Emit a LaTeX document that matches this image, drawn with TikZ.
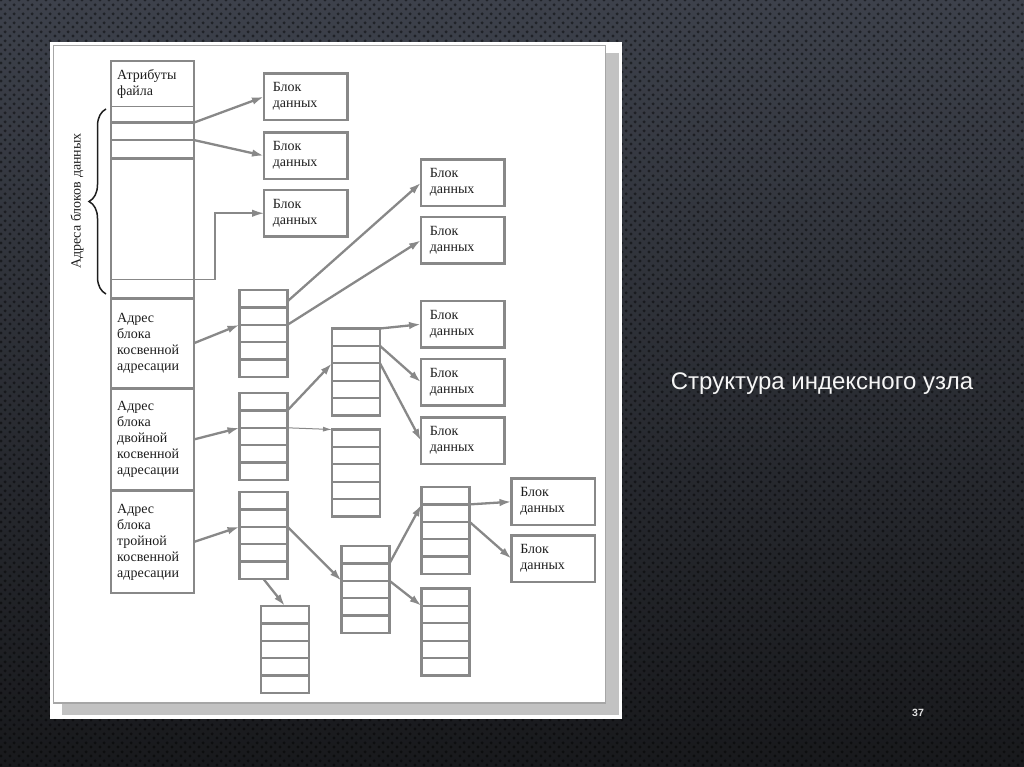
\documentclass[tikz,border=0pt]{standalone}
\usepackage{fontspec}
\setmainfont{Liberation Serif}
\newfontfamily\slidesans{Liberation Sans}
\usetikzlibrary{arrows.meta,calc,patterns,decorations.pathreplacing}

\definecolor{slidetop}{HTML}{3D414B}
\definecolor{slidemid}{HTML}{2A2D33}
\definecolor{slidebot}{HTML}{18191C}
\definecolor{wire}{HTML}{888888}
\definecolor{ink}{HTML}{1E1E1E}
\definecolor{shadowgrey}{HTML}{C2C2C2}

\pgfdeclarepatternformonly{dimples}{\pgfpointorigin}{\pgfpoint{9pt}{9pt}}{\pgfpoint{9pt}{9pt}}{%
  \pgfpathcircle{\pgfpoint{2.25pt}{2.25pt}}{1.8pt}%
  \pgfpathcircle{\pgfpoint{6.75pt}{6.75pt}}{1.8pt}%
  \pgfusepath{fill}}

\tikzset{
  cell/.style={anchor=north west,inner sep=0pt,outer sep=0pt,minimum width=83pt,
    text width=70pt,align=left,text=ink,font=\fontsize{14}{16}\selectfont},
  datablk/.style={cell,draw=wire,line width=2.8pt,minimum width=83.5pt,
    minimum height=46.5pt,text width=66pt},
  ptrblk/.style={draw=wire,line width=2.6pt,anchor=north west,inner sep=0pt,
    outer sep=0pt,minimum width=48pt,minimum height=87pt},
  rowline/.style={draw=wire,line width=2.3pt},
  link/.style={draw=wire,line width=2.3pt,-{Latex[length=12pt,width=7.5pt]}},
  thinlink/.style={draw=wire,line width=1pt,-{Latex[length=9pt,width=5pt]}},
}

% index block with five slots
\newcommand{\ptrblock}[3]{%
  \node[ptrblk] (#1) at (#2,#3) {};
  \foreach \k/\f in {1/0.2,2/0.4,3/0.6,4/0.8}{
    \coordinate (#1-w\k) at ($(#1.north west)!\f!(#1.south west)$);
    \coordinate (#1-e\k) at ($(#1.north east)!\f!(#1.south east)$);
    \draw[rowline] (#1-w\k) -- (#1-e\k);
  }}

\begin{document}
\begin{tikzpicture}[x=1pt,y=-1pt]
\useasboundingbox (0,0) rectangle (1024,767);
% slide background
\shade[top color=slidetop,middle color=slidemid,bottom color=slidebot] (0,0) rectangle (1024,767);
\fill[pattern=dimples,pattern color=black,fill opacity=0.45] (0,0) rectangle (1024,767);
% paper
\fill[white] (50,42.5) rectangle (622,718.5);
\fill[shadowgrey] (62,53) rectangle (619,715);
\filldraw[fill=white,draw=gray!70,line width=1.4pt] (53.5,45.5) rectangle (605.5,703);

% inode
\node[cell,minimum height=46pt] (attr) at (110.7,60.7) {Атрибуты\\файла};
\node[cell,minimum height=16pt] (s0) at (110.7,106.7) {};
\node[cell,minimum height=17.3pt] (s1) at (110.7,122.7) {};
\node[cell,minimum height=18.3pt] (s2) at (110.7,140) {};
\node[cell,minimum height=121pt] (smid) at (110.7,158.3) {};
\node[cell,minimum height=19pt] (slast) at (110.7,279.3) {};
\node[cell,minimum height=90pt] (ind) at (110.7,298.3) {Адрес\\блока\\косвенной\\адресации};
\node[cell,minimum height=102.4pt] (dbl) at (110.7,388.3) {Адрес\\блока\\двойной\\косвенной\\адресации};
\node[cell,minimum height=102.6pt] (tri) at (110.7,490.7) {Адрес\\блока\\тройной\\косвенной\\адресации};
\draw[wire,line width=2.2pt] (attr.north west) rectangle (tri.south east);
\foreach \c in {s1,s2,smid,ind,dbl,tri}
  \draw[rowline,line width=2.7pt] (\c.north west) -- (\c.north east);
\foreach \c in {s0,slast}
  \draw[rowline,line width=1pt] (\c.north west) -- (\c.north east);

% brace
\draw[ink,line width=1.5pt,decorate,decoration={brace,amplitude=17pt}] (106,294) -- (106,109);
\node[rotate=90,text=ink,font=\fontsize{14}{16}\selectfont] (bracelbl) at (77,201) {Адреса блоков данных};

% data blocks
\node[datablk] (d1) at (264,73.5) {Блок\\данных};
\node[datablk] (d2) at (264,132.5) {Блок\\данных};
\node[datablk] (d3) at (264,190) {Блок\\данных};
\node[datablk] (dA) at (421,159.5) {Блок\\данных};
\node[datablk] (dB) at (421,217) {Блок\\данных};
\node[datablk] (dC) at (421,301) {Блок\\данных};
\node[datablk] (dD) at (421,359) {Блок\\данных};
\node[datablk] (dE) at (421,417.5) {Блок\\данных};
\node[datablk] (dF) at (511.5,478.5) {Блок\\данных};
\node[datablk] (dG) at (511.5,535.5) {Блок\\данных};

% index blocks
\ptrblock{ib1}{239.5}{290}
\ptrblock{ib2}{239.5}{393}
\ptrblock{m1}{332}{328.5}
\ptrblock{m2}{332}{429.5}
\ptrblock{t1}{239.5}{492}
\ptrblock{t2}{341.5}{546}
\ptrblock{t3}{421.5}{487}
\ptrblock{t4}{421.5}{588.5}
\ptrblock{bt}{261}{606}

% pointers
\draw[link] (s1.north east) -- (d1.west);
\draw[link] (s2.north east) -- (d2.west);
\draw[link,line width=1.6pt] (slast.north east) -- ++(21,0) |- (d3.west);
\draw[link] (ind.east) -- (ib1-w2);
\draw[link] ($(ib1.north east)!0.13!(ib1.south east)$) -- (dA.west);
\draw[link] (ib1-e2) -- (dB.west);
\draw[link] (dbl.east) -- (ib2-w2);
\draw[link] (ib2-e1) -- (m1-w2);
\draw[thinlink] (ib2-e2) -- (m2.north west);
\draw[link] (m1.north east) -- (dC.west);
\draw[link] (m1-e1) -- (dD.west);
\draw[link] (m1-e2) -- (dE.west);
\draw[link] (tri.east) -- (t1-w2);
\draw[link] (t1.south) -- (bt.north);
\draw[link] (t1-e2) -- (t2-w2);
\draw[link] (t2-e1) -- (t3-w1);
\draw[link] (t2-e2) -- (t4-w1);
\draw[link] (t3-e1) -- (dF.west);
\draw[link] (t3-e2) -- (dG.west);

% slide text
\node[text=white!93!gray,font=\slidesans\fontsize{24}{28}\selectfont] (title) at (822,383.5) {Структура индексного узла};
\node[text=gray!25!white,font=\slidesans\bfseries\fontsize{10.5}{12}\selectfont] (pageno) at (918,713) {37};
\end{tikzpicture}
\end{document}
